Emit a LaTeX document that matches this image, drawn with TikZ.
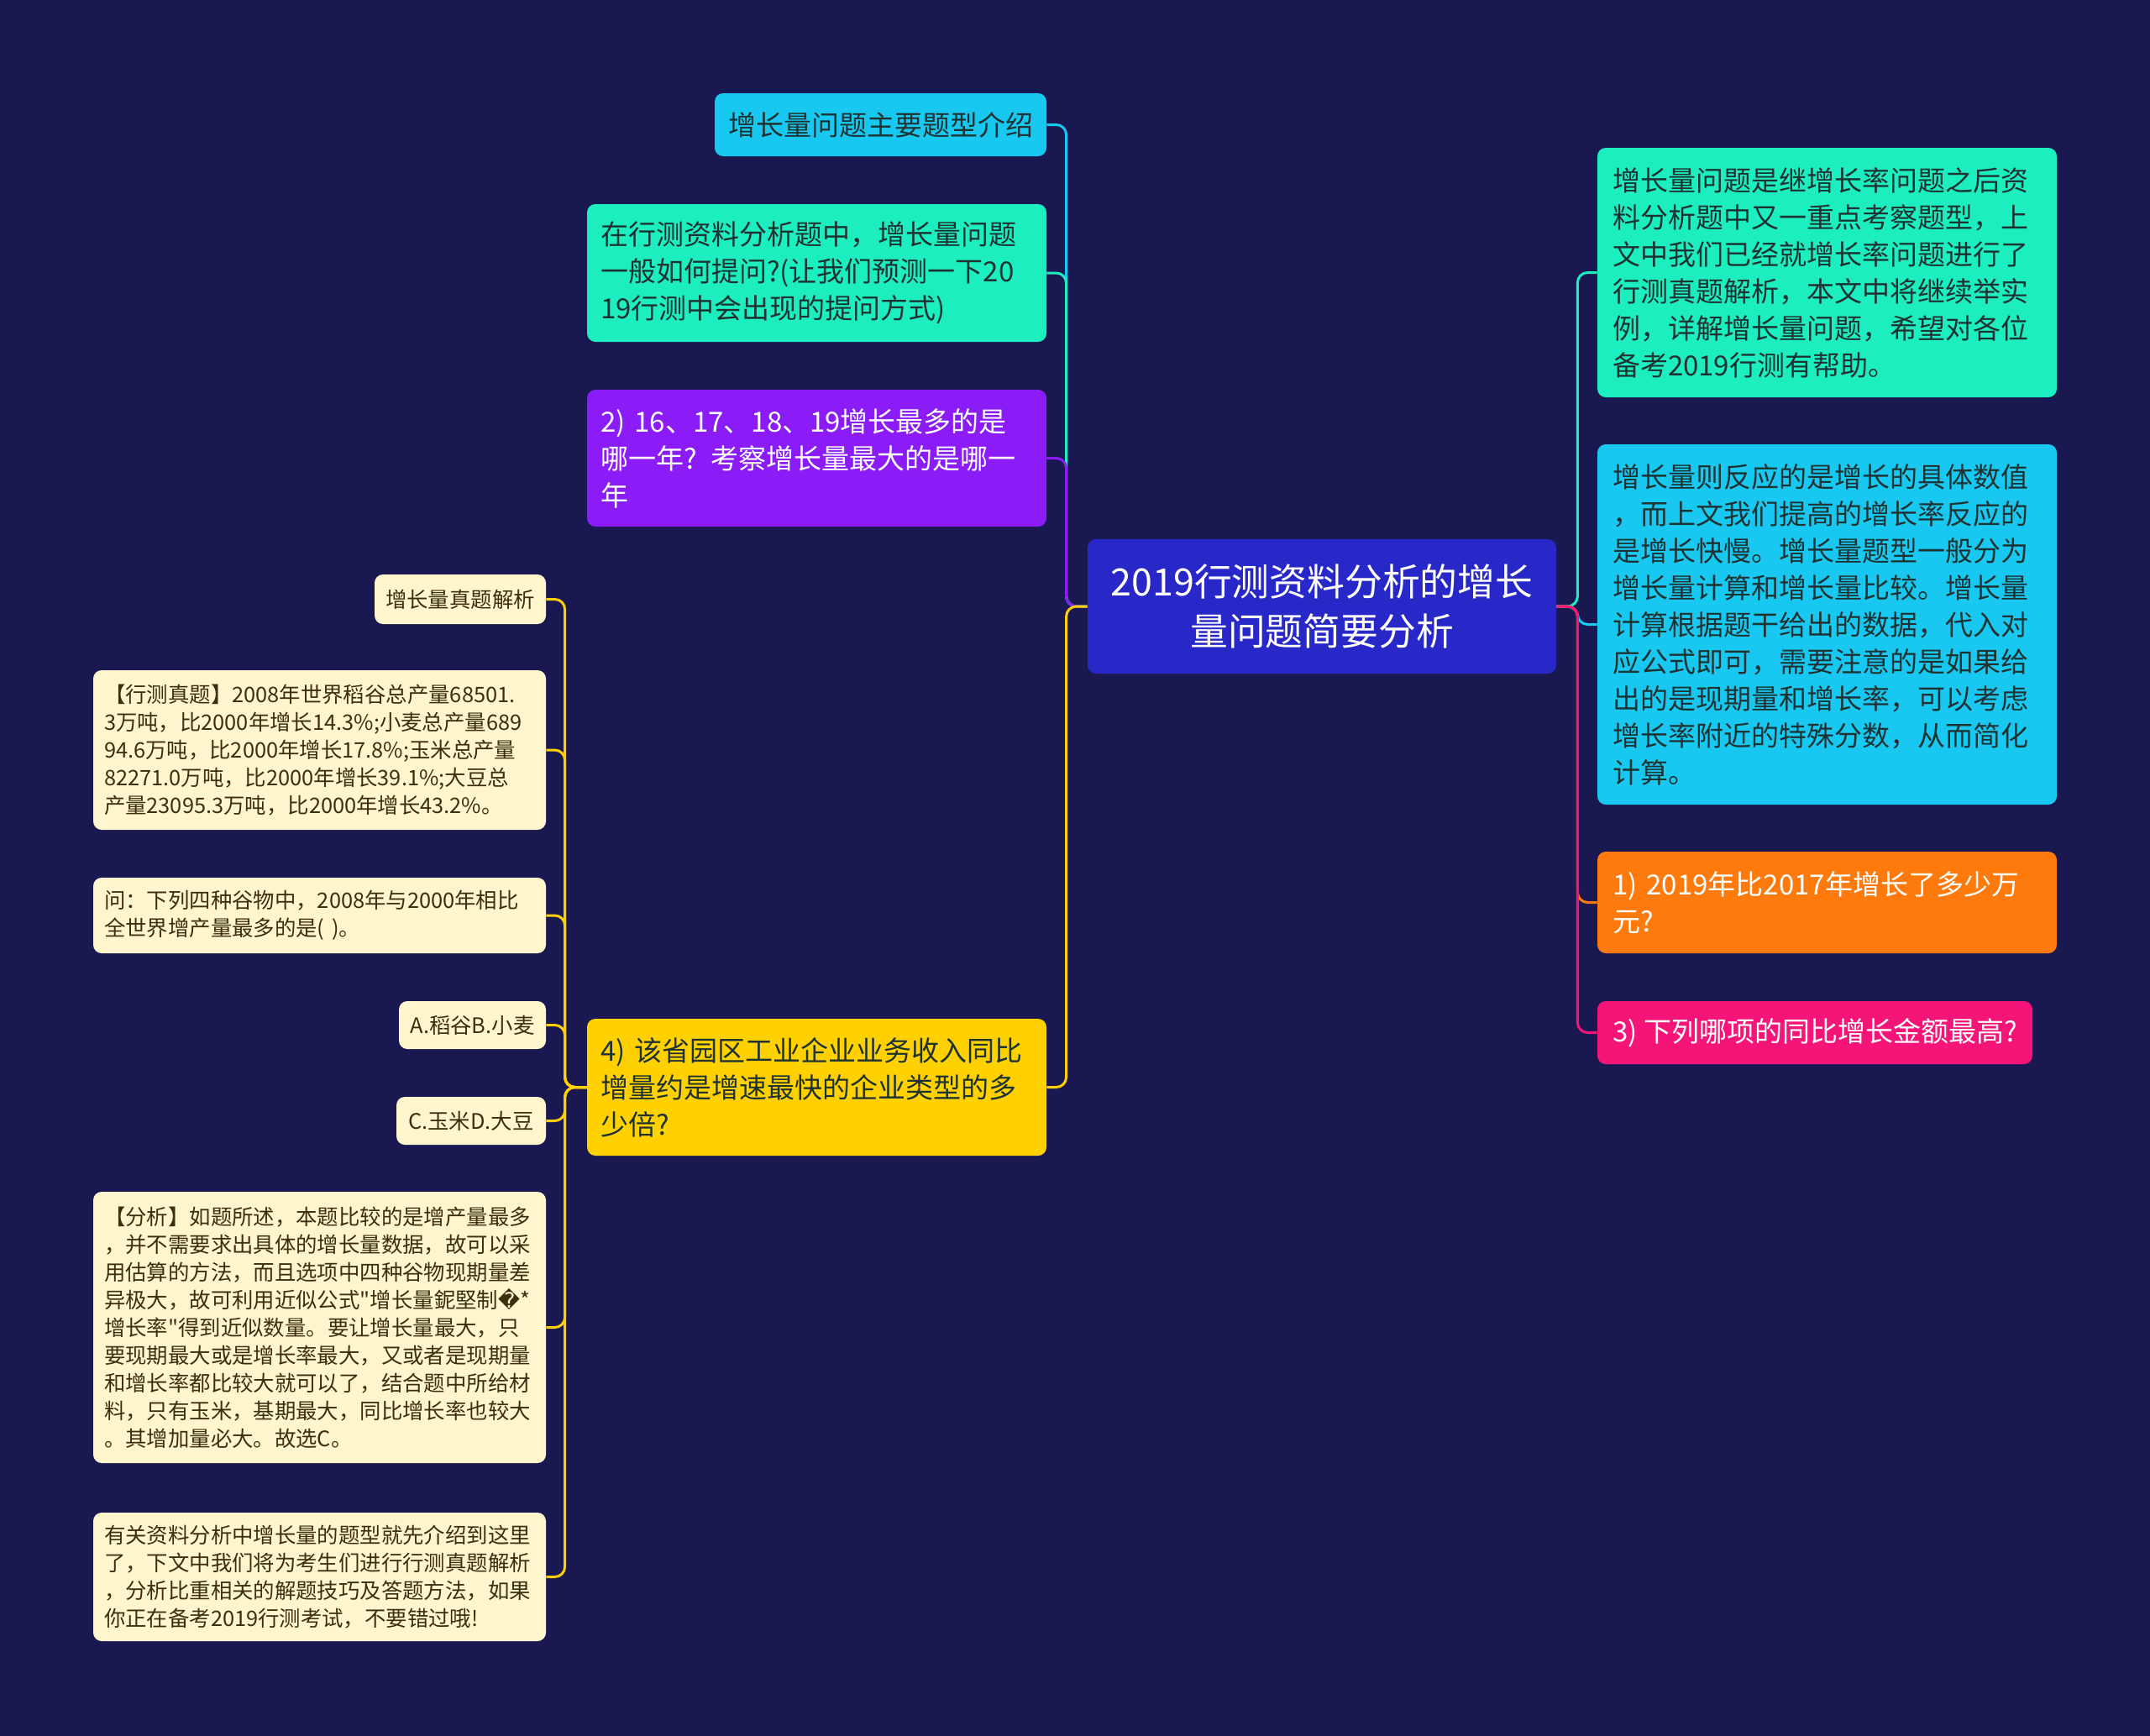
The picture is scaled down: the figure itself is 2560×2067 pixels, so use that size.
\documentclass[tikz,border=0pt]{standalone}
\usepackage{fontspec}
\setmainfont{Noto Sans CJK SC}[Ligatures=TeXOff]
\newfontfamily\dejavu{DejaVu Sans}
\definecolor{bgc}{HTML}{1A1850}
\definecolor{rootc}{HTML}{2828C8}
\definecolor{cyanc}{HTML}{19C8F0}
\definecolor{tealc}{HTML}{1DEEBF}
\definecolor{purplec}{HTML}{8B1CF7}
\definecolor{yellowc}{HTML}{FFD100}
\definecolor{orangec}{HTML}{FF7A0C}
\definecolor{pinkc}{HTML}{F51478}
\definecolor{creamc}{HTML}{FFF6CE}
\definecolor{darktext}{HTML}{1E3232}
\definecolor{browntext}{HTML}{3A3010}
\newcommand\rootfont{\fontsize{22.4pt}{29.5pt}\selectfont}
\newcommand\lvfont{\fontsize{16.5pt}{22pt}\selectfont}
\newcommand\subfont{\fontsize{12.7pt}{16.5pt}\selectfont}
\tikzset{
  rootbox/.style={fill=rootc, text=white, rounded corners=5pt, inner sep=0pt, align=center, font=\rootfont},
  lvbox/.style={rounded corners=5pt, inner sep=0pt, align=left, font=\lvfont},
  subbox/.style={fill=creamc, text=browntext, rounded corners=5pt, inner sep=0pt, align=left, font=\subfont},
  conn/.style={line width=1.5pt, rounded corners=6pt},
}
\begin{document}
\begin{tikzpicture}[x=0.5pt,y=-0.5pt]
\fill[bgc] (0,0) rectangle (2560,2067);
\useasboundingbox (0,0) rectangle (2560,2067);

% root
\node[rootbox, minimum width=279pt, minimum height=80pt, text width=260pt] (root) at (1574,722)
  {2019行测资料分析的增长\\量问题简要分析};

% left level 1
\node[lvbox, fill=cyanc, text=darktext, align=center, minimum width=197.5pt, minimum height=37.5pt] (n1) at (1048.5,148.5)
  {增长量问题主要题型介绍};
\node[lvbox, fill=tealc, text=darktext, minimum width=273.5pt, minimum height=82pt, text width=257.5pt] (n2) at (972.5,325)
  {在行测资料分析题中，增长量问题\\一般如何提问?(让我们预测一下20\\19行测中会出现的提问方式)};
\node[lvbox, fill=purplec, text=white, minimum width=273.5pt, minimum height=81.5pt, text width=257.5pt] (n3) at (972.5,545.5)
  {2) 16、17、18、19增长最多的是\\哪一年? 考察增长量最大的是哪一\\年};
\node[lvbox, fill=yellowc, text=darktext, minimum width=273.5pt, minimum height=81.5pt, text width=257.5pt] (n4) at (972.5,1294.5)
  {4) 该省园区工业企业业务收入同比\\增量约是增速最快的企业类型的多\\少倍?};

% right level 1
\node[lvbox, fill=tealc, text=darktext, minimum width=273.5pt, minimum height=148.5pt, text width=255.5pt] (r1) at (2175.5,324.5)
  {增长量问题是继增长率问题之后资\\料分析题中又一重点考察题型，上\\文中我们已经就增长率问题进行了\\行测真题解析，本文中将继续举实\\例，详解增长量问题，希望对各位\\备考2019行测有帮助。};
\node[lvbox, fill=cyanc, text=darktext, minimum width=273.5pt, minimum height=214.5pt, text width=255.5pt] (r2) at (2175.5,743.5)
  {增长量则反应的是增长的具体数值\\，而上文我们提高的增长率反应的\\是增长快慢。增长量题型一般分为\\增长量计算和增长量比较。增长量\\计算根据题干给出的数据，代入对\\应公式即可，需要注意的是如果给\\出的是现期量和增长率，可以考虑\\增长率附近的特殊分数，从而简化\\计算。};
\node[lvbox, fill=orangec, text=white, minimum width=273.5pt, minimum height=60.5pt, text width=255.5pt] (r3) at (2175.5,1074.5)
  {1) 2019年比2017年增长了多少万\\元?};
\node[lvbox, fill=pinkc, text=white, align=center, minimum width=259pt, minimum height=37.5pt] (r4) at (2161,1229.5)
  {3) 下列哪项的同比增长金额最高?};

% sub nodes of n4
\node[subbox, align=center, minimum width=102pt, minimum height=29.5pt] (s1) at (548,713.5)
  {增长量真题解析};
\node[subbox, minimum width=269.5pt, minimum height=95pt, text width=256.5pt] (s2) at (380.5,893)
  {【行测真题】2008年世界稻谷总产量68501.\\3万吨，比2000年增长14.3\%;小麦总产量689\\94.6万吨，比2000年增长17.8\%;玉米总产量\\82271.0万吨，比2000年增长39.1\%;大豆总\\产量23095.3万吨，比2000年增长43.2\%。};
\node[subbox, minimum width=269.5pt, minimum height=45pt, text width=256.5pt] (s3) at (380.5,1090)
  {问：下列四种谷物中，2008年与2000年相比\\全世界增产量最多的是( )。};
\node[subbox, align=center, minimum width=87.5pt, minimum height=28.5pt] (s4) at (562.5,1220.5)
  {A.稻谷B.小麦};
\node[subbox, align=center, minimum width=89pt, minimum height=28.5pt] (s5) at (561,1334.5)
  {C.玉米D.大豆};
\node[subbox, minimum width=269.5pt, minimum height=161.5pt, text width=256.5pt] (s6) at (380.5,1580.5)
  {【分析】如题所述，本题比较的是增产量最多\\，并不需要求出具体的增长量数据，故可以采\\用估算的方法，而且选项中四种谷物现期量差\\异极大，故可利用近似公式"增长量鈮堅制{\dejavu �}*\\增长率"得到近似数量。要让增长量最大，只\\要现期最大或是增长率最大，又或者是现期量\\和增长率都比较大就可以了，结合题中所给材\\料，只有玉米，基期最大，同比增长率也较大\\。其增加量必大。故选C。};
\node[subbox, minimum width=269.5pt, minimum height=76.5pt, text width=256.5pt] (s7) at (380.5,1877.5)
  {有关资料分析中增长量的题型就先介绍到这里\\了，下文中我们将为考生们进行行测真题解析\\，分析比重相关的解题技巧及答题方法，如果\\你正在备考2019行测考试，不要错过哦!};

% connectors left
\draw[conn, cyanc] (root.west) -- ++(-25,0) |- (n1.east);
\draw[conn, tealc] (root.west) -- ++(-25,0) |- (n2.east);
\draw[conn, purplec] (root.west) -- ++(-25,0) |- (n3.east);
\draw[conn, yellowc] (root.west) -- ++(-25,0) |- (n4.east);

% connectors right
\draw[conn, tealc] (root.east) -- ++(25,0) |- (r1.west);
\draw[conn, cyanc] (root.east) -- ++(25,0) |- (r2.west);
\draw[conn, orangec] (root.east) -- ++(25,0) |- (r3.west);
\draw[conn, pinkc] (root.east) -- ++(25,0) |- (r4.west);

% connectors to sub nodes
\foreach \s in {s1,s2,s3,s4,s5,s6,s7}
  \draw[conn, yellowc] (n4.west) -- ++(-26,0) |- (\s.east);
\end{tikzpicture}
\end{document}
